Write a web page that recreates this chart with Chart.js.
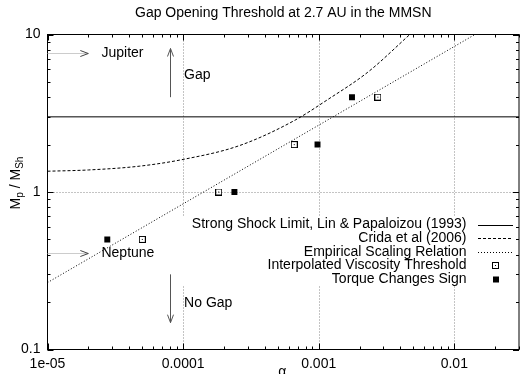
<!DOCTYPE html>
<html>
<head>
<meta charset="utf-8">
<script src="https://cdn.jsdelivr.net/npm/chart.js@4.4.1/dist/chart.umd.min.js"></script>
<style>
  html, body { margin: 0; padding: 0; background: #fff; }
  canvas { display: block; }
</style>
</head>
<body>
<canvas id="chart" width="524" height="374"></canvas>
<script>
// values (alpha on x, Mp/MSh on y)
const alphaShock = [1e-5, 0.03];
const mpShock = [3, 3];

const alphaCrida = [1e-5, 2e-5, 4.8e-5, 1e-4, 2.6e-4, 6.6e-4, 1.17e-3, 2.3e-3, 4.7e-3];
const mpCrida = [1.355, 1.38, 1.46, 1.61, 1.97, 2.84, 3.87, 5.76, 10];

const alphaEmpirical = [1e-5, 0.0142];
const mpEmpirical = [0.266, 10];

const alphaViscosity = [5.0e-5, 1.83e-4, 6.6e-4, 2.73e-3];
const mpViscosity = [0.5, 1, 2, 4];

const alphaTorque = [2.76e-5, 2.39e-4, 9.8e-4, 1.76e-3];
const mpTorque = [0.5, 1, 2, 4];

const xTickValues = [1e-5, 1e-4, 1e-3, 1e-2];
const xTickLabels = ['1e-05', '0.0001', '0.001', '0.01'];
const yTickValues = [0.1, 1, 10];
const yTickLabels = ['0.1', '1', '10'];

// text notes placed in data coordinates
const planetNotes = [
    { text: 'Jupiter', mp: 7.6 },
    { text: 'Neptune', mp: 0.41 }
];
const gapNotes = [
    { text: 'Gap', from: 4.0, to: 8.15, labelAt: 5.5 },
    { text: 'No Gap', from: 0.30, to: 0.148, labelAt: 0.196 }
];

const FONT = '"Liberation Sans", Arial, Helvetica, sans-serif';
Chart.defaults.font.family = FONT;
Chart.defaults.font.size = 14;
Chart.defaults.color = '#000';

function openSquare() {
    const c = document.createElement('canvas');
    c.width = 7;
    c.height = 7;
    const g = c.getContext('2d');
    g.strokeStyle = '#000';
    g.lineWidth = 1;
    g.strokeRect(0.5, 0.5, 6, 6);
    g.fillStyle = '#000';
    g.fillRect(3, 3, 1, 1);
    return c;
}
const openSq = openSquare();

function toPoints(xs, ys) {
    return xs.map((v, i) => ({ x: v, y: ys[i] }));
}

function line(ctx, x1, y1, x2, y2) {
    ctx.beginPath();
    ctx.moveTo(x1, y1);
    ctx.lineTo(x2, y2);
    ctx.stroke();
}

function minorValues(min, max) {
    const out = [];
    for (let k = Math.floor(Math.log10(min)); k <= Math.ceil(Math.log10(max)); k++) {
        for (let m = 1; m <= 9; m++) {
            const v = m * Math.pow(10, k);
            if (v >= min * 0.999 && v <= max * 1.001) out.push({ v: v, major: m === 1 });
        }
    }
    return out;
}

const frame = {
    id: 'frame',
    beforeDatasetsDraw(chart) {
        const { ctx, chartArea: a, scales: { x, y } } = chart;
        ctx.save();
        ctx.strokeStyle = '#888';
        ctx.lineWidth = 1;
        ctx.setLineDash([1, 2]);
        xTickValues.forEach(v => {
            const px = Math.round(x.getPixelForValue(v)) + 0.5;
            if (px > a.left + 2 && px < a.right - 2) line(ctx, px, a.top, px, a.bottom);
        });
        yTickValues.forEach(v => {
            const py = Math.round(y.getPixelForValue(v)) + 0.5;
            if (py > a.top + 2 && py < a.bottom - 2) line(ctx, a.left, py, a.right, py);
        });
        ctx.setLineDash([]);
        // opaque key area
        ctx.fillStyle = '#fff';
        ctx.fillRect(180, 217, a.right - 181, 68);
        ctx.restore();
    },
    afterDatasetsDraw(chart) {
        const { ctx, chartArea: a, scales: { x, y } } = chart;
        ctx.save();
        ctx.strokeStyle = '#000';
        ctx.lineWidth = 1;

        // inward ticks on all four sides
        minorValues(x.min, x.max).forEach(t => {
            const px = Math.round(x.getPixelForValue(t.v)) + 0.5;
            const len = t.major ? 6 : 3;
            line(ctx, px, a.bottom, px, a.bottom - len);
            line(ctx, px, a.top, px, a.top + len);
        });
        minorValues(y.min, y.max).forEach(t => {
            const py = Math.round(y.getPixelForValue(t.v)) + 0.5;
            const len = t.major ? 6 : 3;
            line(ctx, a.left, py, a.left + len, py);
            line(ctx, a.right, py, a.right - len, py);
        });
        ctx.strokeRect(a.left, a.top, a.right - a.left, a.bottom - a.top);

        // key
        ctx.font = '14px ' + FONT;
        ctx.textAlign = 'right';
        ctx.textBaseline = 'middle';
        chart.data.datasets.forEach((ds, i) => {
            const ky = 224.5 + i * 13.6;
            ctx.fillStyle = '#000';
            ctx.fillText(ds.label, 466.5, ky);
            if (ds.showLine) {
                ctx.setLineDash(ds.borderDash || []);
                line(ctx, 478, Math.round(ky) + 0.5, 513, Math.round(ky) + 0.5);
                ctx.setLineDash([]);
            } else if (ds.pointStyle === 'rect') {
                ctx.fillRect(493, Math.round(ky) - 2.5, 6, 6);
            } else {
                ctx.drawImage(ds.pointStyle, 492, Math.round(ky) - 3);
            }
        });

        // planet arrows: dotted grey shaft, open head
        const x0 = x.getPixelForValue(1e-5);
        const x1 = x.getPixelForValue(2.0e-5);
        const xl = x.getPixelForValue(2.5e-5);
        ctx.textAlign = 'left';
        planetNotes.forEach(n => {
            const py = Math.round(y.getPixelForValue(n.mp)) + 0.5;
            ctx.strokeStyle = '#999';
            ctx.setLineDash([1, 1]);
            line(ctx, x0, py, x1, py);
            ctx.setLineDash([]);
            ctx.strokeStyle = '#444';
            line(ctx, x1 - 8, py - 3, x1, py);
            line(ctx, x1 - 8, py + 3, x1, py);
            ctx.fillStyle = '#000';
            ctx.fillText(n.text, xl, py);
        });

        // gap / no gap arrows
        const gx = Math.round(x.getPixelForValue(8.0e-5)) + 0.5;
        const gl = x.getPixelForValue(1e-4) + 1;
        gapNotes.forEach(n => {
            const pf = y.getPixelForValue(n.from);
            const pt = y.getPixelForValue(n.to);
            const dir = pt < pf ? 1 : -1;
            ctx.strokeStyle = '#555';
            line(ctx, gx, pf, gx, pt);
            line(ctx, gx - 3, pt + dir * 8, gx, pt);
            line(ctx, gx + 3, pt + dir * 8, gx, pt);
            ctx.fillStyle = '#000';
            ctx.fillText(n.text, gl, y.getPixelForValue(n.labelAt));
        });

        // title
        ctx.textAlign = 'center';
        ctx.fillText('Gap Opening Threshold at 2.7 AU in the MMSN', (a.left + a.right) / 2, 13.5);

        // x axis title
        ctx.textBaseline = 'alphabetic';
        ctx.fillText('\u03b1', (a.left + a.right) / 2 - 1, 376);

        // y axis title with subscripts
        const parts = [['M', false], ['p', true], [' / M', false], ['Sh', true]];
        ctx.translate(20, 183);
        ctx.rotate(-Math.PI / 2);
        let w = 0;
        parts.forEach(p => {
            ctx.font = (p[1] ? '10px ' : '14px ') + FONT;
            w += ctx.measureText(p[0]).width;
        });
        let cx = -w / 2;
        ctx.textAlign = 'left';
        parts.forEach(p => {
            ctx.font = (p[1] ? '10px ' : '14px ') + FONT;
            ctx.fillText(p[0], cx, p[1] ? 3 : 0);
            cx += ctx.measureText(p[0]).width;
        });
        ctx.restore();
    }
};

function findLabel(values, labels, v) {
    const i = values.findIndex(t => Math.abs(t - v) / t < 1e-6);
    return i >= 0 ? labels[i] : '';
}

new Chart(document.getElementById('chart'), {
    type: 'scatter',
    data: {
        datasets: [
            {
                label: 'Strong Shock Limit, Lin & Papaloizou (1993)',
                data: toPoints(alphaShock, mpShock),
                showLine: true,
                borderColor: '#000',
                borderWidth: 1,
                pointRadius: 0
            },
            {
                label: 'Crida et al (2006)',
                data: toPoints(alphaCrida, mpCrida),
                showLine: true,
                borderColor: '#000',
                borderWidth: 1,
                borderDash: [3, 2],
                cubicInterpolationMode: 'monotone',
                pointRadius: 0
            },
            {
                label: 'Empirical Scaling Relation',
                data: toPoints(alphaEmpirical, mpEmpirical),
                showLine: true,
                borderColor: '#000',
                borderWidth: 1,
                borderDash: [1, 2],
                pointRadius: 0
            },
            {
                label: 'Interpolated Viscosity Threshold',
                data: toPoints(alphaViscosity, mpViscosity),
                showLine: false,
                pointStyle: openSq,
                pointRadius: 3.5
            },
            {
                label: 'Torque Changes Sign',
                data: toPoints(alphaTorque, mpTorque),
                showLine: false,
                pointStyle: 'rect',
                pointRadius: 4.2,
                backgroundColor: '#000',
                borderColor: '#000',
                borderWidth: 0
            }
        ]
    },
    options: {
        responsive: false,
        animation: false,
        devicePixelRatio: 1,
        events: [],
        layout: { padding: { left: 0, right: 2.5, top: 34.5, bottom: 0 } },
        plugins: {
            legend: { display: false },
            tooltip: { enabled: false },
            title: { display: false }
        },
        scales: {
            x: {
                type: 'logarithmic',
                position: 'bottom',
                min: 1e-5,
                max: 0.03,
                grid: { display: false, drawTicks: false },
                border: { display: false },
                ticks: {
                    autoSkip: false,
                    maxRotation: 0,
                    padding: 6,
                    color: '#000',
                    callback: v => findLabel(xTickValues, xTickLabels, v)
                },
                afterBuildTicks: s => { s.ticks = xTickValues.map(v => ({ value: v })); },
                afterFit: s => { s.height = 24.5; }
            },
            y: {
                type: 'logarithmic',
                position: 'left',
                min: 0.1,
                max: 10,
                grid: { display: false, drawTicks: false },
                border: { display: false },
                ticks: {
                    autoSkip: false,
                    padding: 7,
                    color: '#000',
                    callback: v => findLabel(yTickValues, yTickLabels, v)
                },
                afterBuildTicks: s => { s.ticks = yTickValues.map(v => ({ value: v })); },
                afterFit: s => { s.width = 47.5; }
            }
        }
    },
    plugins: [frame]
});
</script>
</body>
</html>
